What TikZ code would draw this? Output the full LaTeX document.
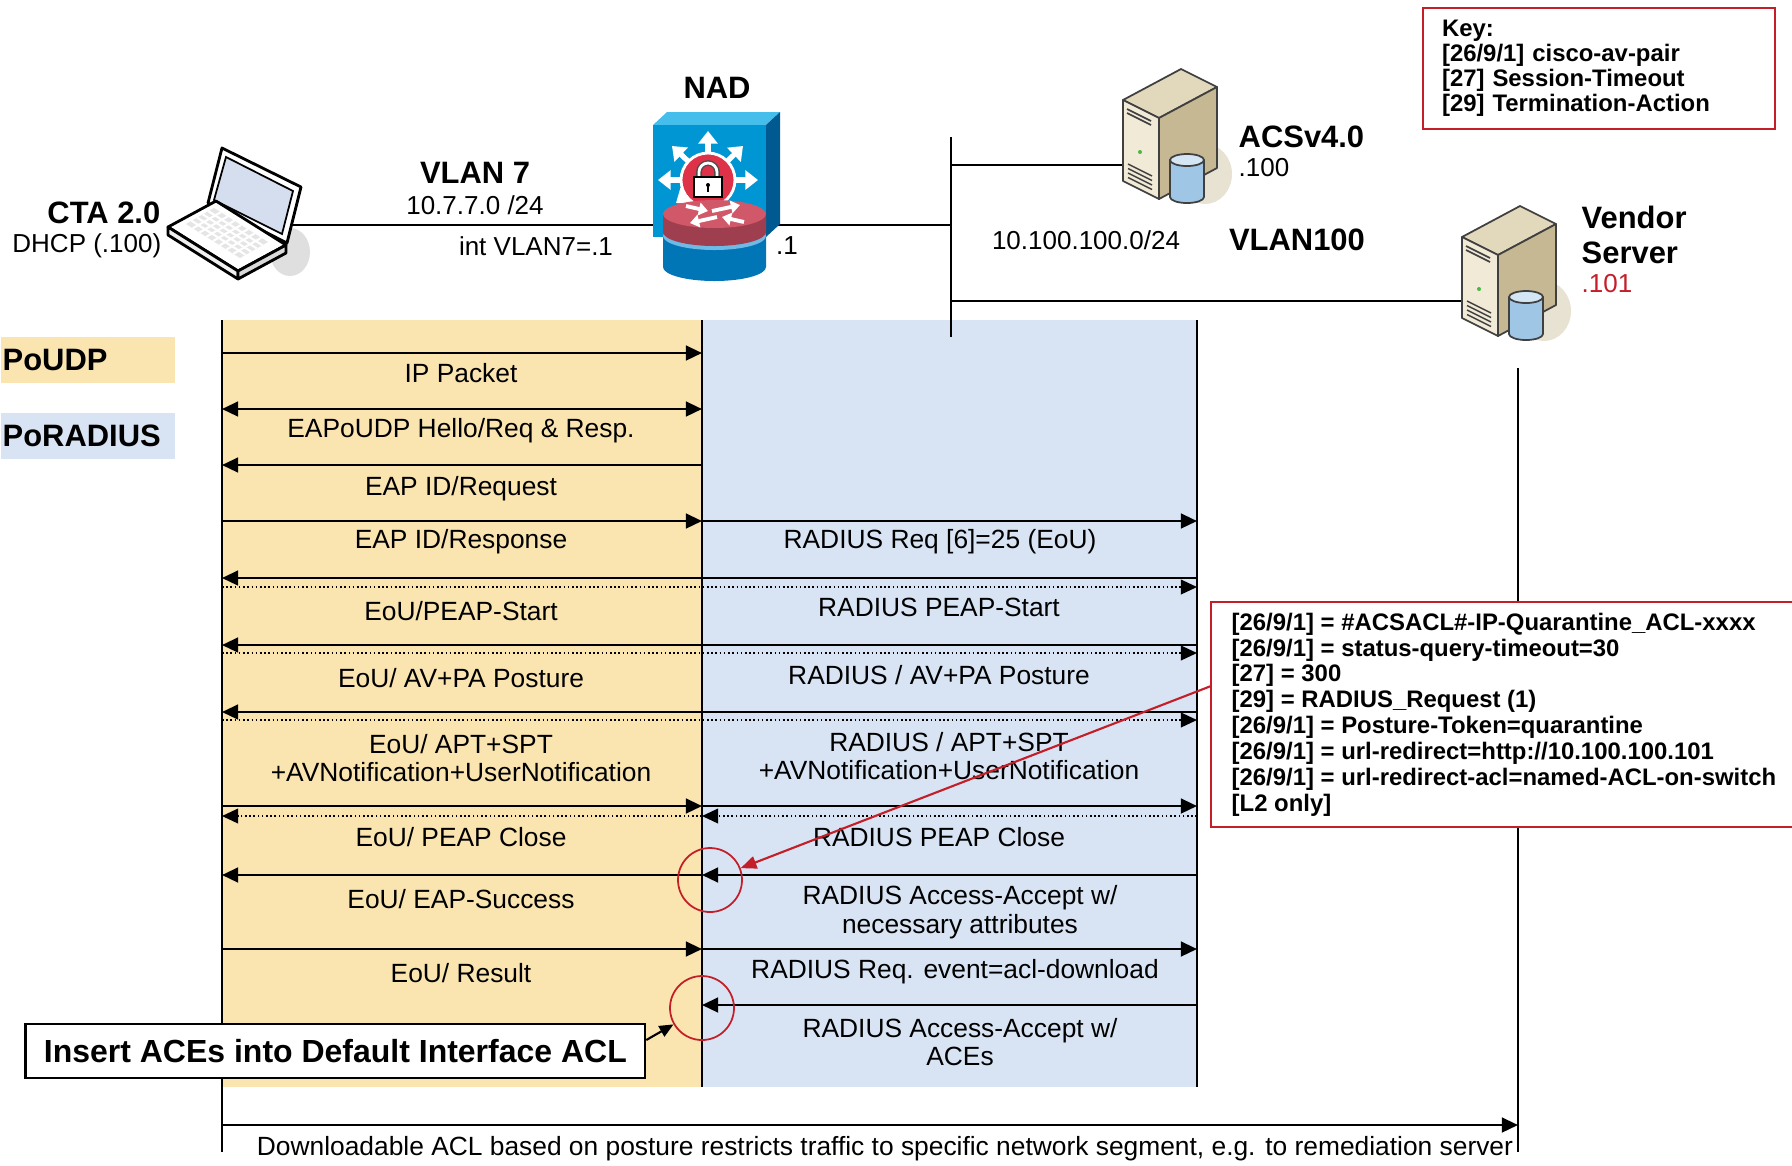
\documentclass[tikz,border=0pt]{standalone}
\usepackage{fontspec}
\setmainfont{Liberation Sans}
\usepackage{xcolor}
\definecolor{eouyellow}{RGB}{250,228,176}
\definecolor{radblue}{RGB}{216,228,244}
\definecolor{notered}{RGB}{196,30,40}
\definecolor{nadblue}{RGB}{0,150,212}
\definecolor{nadtop}{RGB}{70,190,236}
\definecolor{nadside}{RGB}{0,90,145}
\definecolor{nadcyl}{RGB}{0,118,182}
\definecolor{nadrim}{RGB}{110,185,230}
\definecolor{nadred}{RGB}{208,88,104}
\definecolor{nadredside}{RGB}{158,62,78}
\definecolor{lockred}{RGB}{222,50,72}
\definecolor{srvfront}{RGB}{240,234,214}
\definecolor{srvtop}{RGB}{226,216,188}
\definecolor{srvside}{RGB}{198,184,146}
\definecolor{srvshadow}{RGB}{232,226,210}
\definecolor{srvdisk}{RGB}{160,198,230}
\definecolor{lcdblue}{RGB}{212,222,238}
\usetikzlibrary{arrows.meta,calc,positioning}

\newcommand{\msgfont}{\fontsize{7.5}{8.2}\selectfont}
\newcommand{\hdfont}{\fontsize{8.8}{10}\selectfont\bfseries}
\newcommand{\notefont}{\fontsize{6.8}{7.35}\selectfont\bfseries}

% tower server icon, origin at the top corner
\tikzset{
  srvedge/.style={draw=black!75, line width=0.5pt, line join=round},
  towerserver/.pic={
    \fill[srvshadow] (0.24,-1.05) ellipse (0.27 and 0.30);
    \draw[srvedge, fill=srvtop] (0,0) -- (0.36,-0.18) -- (-0.22,-0.49) -- (-0.58,-0.31) -- cycle;
    \draw[srvedge, fill=srvfront] (-0.58,-0.31) -- (-0.22,-0.49) -- (-0.22,-1.30) -- (-0.58,-1.12) -- cycle;
    \draw[srvedge, fill=srvside] (-0.22,-0.49) -- (0.36,-0.18) -- (0.36,-0.99) -- (-0.22,-1.30) -- cycle;
    % slots, led and vents
    \draw[srvedge] (-0.54,-0.40) -- (-0.30,-0.52);
    \draw[srvedge] (-0.54,-0.44) -- (-0.30,-0.56);
    \fill[green!45!gray] (-0.41,-0.83) circle (0.02);
    \foreach \k in {0,1,2,3}
      \draw[srvedge, line width=0.4pt] (-0.53,-0.95-\k*0.045) -- (-0.29,-1.07-\k*0.045);
    % disk
    \draw[srvedge, fill=srvdisk] (-0.11,-0.91) -- (-0.11,-1.28) arc (180:360:0.17 and 0.06) -- (0.23,-0.91) -- cycle;
    \draw[srvedge, fill=srvdisk!45!white] (0.06,-0.91) ellipse (0.17 and 0.06);
  }
}

\begin{document}
\begin{tikzpicture}[
    >={Triangle[length=4.6pt,width=4.2pt]},
    msg/.style={line width=0.7pt, ->},
    msgdot/.style={line width=0.45pt, dash pattern=on 0.45pt off 0.75pt, ->},
    life/.style={line width=0.75pt},
    net/.style={line width=0.75pt},
    lbl/.style={font=\msgfont, inner sep=0pt, align=center},
    hd/.style={font=\hdfont, inner sep=0pt},
    addr/.style={font=\fontsize{7.4}{8.2}\selectfont, inner sep=0pt},
    ring/.style={circle, draw=notered, line width=0.5pt, minimum size=0.64cm, inner sep=0pt},
    notebox/.style={draw=notered, line width=0.6pt}
]
\useasboundingbox (0,0) rectangle (17.92,-11.65);

% EAPoUDP and EAPoRADIUS legs
\fill[eouyellow] (2.22,-3.20) rectangle (7.02,-10.87);
\fill[radblue] (7.02,-3.20) rectangle (11.97,-10.87);

\node[anchor=west, fill=eouyellow, font=\hdfont, minimum height=0.46cm, text width=1.70cm, inner xsep=0.02cm, inner ysep=0pt] (udpkey) at (0,-3.60) {PoUDP};
\node[anchor=west, fill=radblue, font=\hdfont, minimum height=0.46cm, text width=1.70cm, inner xsep=0.02cm, inner ysep=0pt] (radkey) at (0,-4.36) {PoRADIUS};

% network
\coordinate (pc) at (2.93,-2.25);
\coordinate (bus7) at (9.51,-2.25);
\coordinate (bustop) at (9.51,-1.37);
\coordinate (busbot) at (9.51,-3.37);
\coordinate (busacs) at (9.51,-1.65);
\coordinate (acsport) at (11.23,-1.65);
\coordinate (busvnd) at (9.51,-3.01);
\coordinate (vndport) at (14.62,-3.01);
\draw[net] (pc) -- (bus7);
\draw[net] (bustop) -- (busbot);
\draw[net] (busacs) -- (acsport);
\draw[net] (busvnd) -- (vndport);

% CTA laptop
\fill[gray!25] (2.90,-2.52) ellipse (0.20 and 0.24);
\draw[line width=0.8pt, fill=white, line join=round] (2.22,-1.48) -- (3.01,-1.87) -- (2.87,-2.43) -- (2.08,-2.03) -- cycle;
\draw[line width=0.5pt, fill=lcdblue] (2.26,-1.57) -- (2.93,-1.91) -- (2.82,-2.34) -- (2.14,-2.00) -- cycle;
\coordinate (lb) at (1.68,-2.27);
\coordinate (fb) at (2.38,-2.71);
\coordinate (rb) at (2.86,-2.45);
\coordinate (bb) at (2.16,-2.01);
\draw[line width=0.8pt, fill=white, line join=round] (lb) -- (fb) -- (rb) -- (bb) -- cycle;
\draw[line width=0.8pt, fill=gray!12, line join=round] (lb) -- (fb) -- ($(fb)+(0,-0.08)$) -- ($(lb)+(0,-0.08)$) -- cycle;
\draw[line width=0.8pt, fill=gray!30, line join=round] (fb) -- (rb) -- ($(rb)+(0,-0.08)$) -- ($(fb)+(0,-0.08)$) -- cycle;
\coordinate (k1) at (1.86,-2.24);
\coordinate (k2) at (2.40,-2.58);
\coordinate (k3) at (2.68,-2.42);
\coordinate (k4) at (2.14,-2.08);
\fill[gray!20] (k1) -- (k2) -- (k3) -- (k4) -- cycle;
\foreach \t in {0.125,0.25,...,0.9}
  \draw[white, line width=0.6pt] ($(k1)!\t!(k2)$) -- ($(k4)!\t!(k3)$);
\foreach \t in {0.2,0.4,0.6,0.8}
  \draw[white, line width=0.6pt] ($(k1)!\t!(k4)$) -- ($(k2)!\t!(k3)$);

% NAD: switch with lock on a router disk
\fill[nadtop] (6.53,-1.25) -- (6.67,-1.12) -- (7.80,-1.12) -- (7.66,-1.25) -- cycle;
\fill[nadside] (7.66,-1.25) -- (7.80,-1.12) -- (7.80,-2.24) -- (7.66,-2.37) -- cycle;
\fill[nadblue] (6.53,-1.25) rectangle (7.66,-2.37);
\foreach \tx/\ty in {7.08/-1.31, 6.58/-1.80, 7.58/-1.80, 6.72/-1.46, 7.43/-1.46, 6.76/-2.03}
  \draw[white, line width=1.5pt, -{Triangle[length=3.6pt,width=5.4pt]}] (7.08,-1.80) -- (\tx,\ty);
\draw[white, line width=0.8pt, fill=lockred] (7.08,-1.80) circle (0.27);
\draw[gray!60!black, line width=1.6pt] (6.99,-1.77) -- (6.99,-1.72) arc (180:0:0.09) -- (7.17,-1.77);
\draw[white, line width=0.8pt] (6.99,-1.77) -- (6.99,-1.72) arc (180:0:0.09) -- (7.17,-1.77);
\draw[line width=0.4pt, fill=white] (6.94,-1.77) rectangle (7.22,-1.97);
\fill (7.08,-1.85) circle (0.02);
\draw[line width=0.6pt] (7.08,-1.85) -- (7.08,-1.92);
\fill[nadcyl] (6.63,-2.36) -- (6.63,-2.67) arc (180:360:0.515 and 0.14) -- (7.66,-2.36) -- cycle;
\fill[nadrim] (7.145,-2.36) ellipse (0.515 and 0.14);
\fill[nadredside] (6.63,-2.14) -- (6.63,-2.32) arc (180:360:0.515 and 0.14) -- (7.66,-2.14) -- cycle;
\fill[nadred] (7.145,-2.14) ellipse (0.515 and 0.14);
\draw[white, line width=1.1pt, -{Triangle[length=2.6pt,width=3.6pt]}] (7.12,-2.11) -- (7.40,-2.05);
\draw[white, line width=1.1pt, -{Triangle[length=2.6pt,width=3.6pt]}] (7.17,-2.17) -- (6.90,-2.23);
\draw[white, line width=1.1pt, -{Triangle[length=2.6pt,width=3.6pt]}] (6.86,-2.06) -- (7.08,-2.11);
\draw[white, line width=1.1pt, -{Triangle[length=2.6pt,width=3.6pt]}] (7.44,-2.22) -- (7.22,-2.17);

% servers
\pic at (11.81,-0.69) {towerserver};
\pic at (15.20,-2.06) {towerserver};

% names and addresses
\node[hd, anchor=east] (ctaname) at (1.61,-2.13) {CTA 2.0};
\node[addr, anchor=east] (ctaaddr) at (1.62,-2.46) {DHCP (.100)};
\node[hd] (vlan7) at (4.75,-1.73) {VLAN 7};
\node[addr] (net7) at (4.75,-2.05) {10.7.7.0 /24};
\node[addr] (svi7) at (5.36,-2.46) {int VLAN7=.1};
\node[hd] (nadname) at (7.17,-0.88) {NAD};
\node[addr] (svi100) at (7.87,-2.46) {.1};
\node[hd, anchor=west] (acsname) at (12.38,-1.37) {ACSv4.0};
\node[addr, anchor=west] (acsaddr) at (12.38,-1.68) {.100};
\node[addr] (net100) at (10.86,-2.40) {10.100.100.0/24};
\node[hd] (vlan100) at (12.97,-2.40) {VLAN100};
\node[hd, anchor=west, align=left] (vndname) at (15.81,-2.35) {Vendor\\Server};
\node[addr, anchor=west, text=notered] (vndaddr) at (15.81,-2.84) {.101};

% key
\node[anchor=north west, draw=notered, line width=0.6pt, fill=white, font=\fontsize{6.8}{7.1}\selectfont\bfseries, align=left, text width=3.14cm, inner xsep=0.19cm, minimum height=1.21cm] (key) at (14.22,-0.07)
  {Key:\\{}[26/9/1] cisco-av-pair\\{}[27] Session-Timeout\\{}[29] Termination-Action};

% lifelines
\coordinate (cta) at (2.22,-3.20);
\coordinate (ctaend) at (2.22,-11.52);
\coordinate (nad) at (7.02,-3.20);
\coordinate (nadend) at (7.02,-10.87);
\coordinate (acs) at (11.97,-3.20);
\coordinate (acsend) at (11.97,-10.87);
\coordinate (vnd) at (15.18,-3.68);
\coordinate (vndend) at (15.18,-11.52);
\draw[life] (cta) -- (ctaend);
\draw[life] (nad) -- (nadend);
\draw[life] (acs) -- (acsend);
\draw[life] (vnd) -- (vndend);

% messages
\foreach \y/\a/\b in {3.53/cta/nad, 5.21/cta/nad, 5.21/nad/acs, 8.06/cta/nad, 8.06/nad/acs,
    9.49/cta/nad, 9.49/nad/acs, 11.25/cta/vnd,
    4.65/nad/cta, 5.78/acs/cta, 6.45/acs/cta, 7.12/acs/cta, 8.75/acs/nad, 8.75/nad/cta, 10.05/acs/nad}
  \draw[msg] (\a |- 0,-\y) -- (\b |- 0,-\y);
\foreach \y/\a/\b in {5.87/cta/acs, 6.53/cta/acs, 7.20/cta/acs, 8.16/acs/nad, 8.16/nad/cta}
  \draw[msgdot] (\a |- 0,-\y) -- (\b |- 0,-\y);
\draw[msg, <->] (cta |- 0,-4.09) -- (nad |- 0,-4.09);

\node[lbl] (m1) at (4.61,-3.73) {IP Packet};
\node[lbl] (m2) at (4.61,-4.31) {EAPoUDP Hello/Req \& Resp.};
\node[lbl] (m3) at (4.61,-4.89) {EAP ID/Request};
\node[lbl] (m4) at (4.61,-5.42) {EAP ID/Response};
\node[lbl] (m5) at (4.61,-6.11) {EoU/PEAP-Start};
\node[lbl] (m6) at (4.61,-6.78) {EoU/ AV+PA Posture};
\node[lbl] (m7) at (4.61,-7.58) {EoU/ APT+SPT\\+AVNotification+UserNotification};
\node[lbl] (m8) at (4.61,-8.37) {EoU/ PEAP Close};
\node[lbl] (m9) at (4.61,-8.99) {EoU/ EAP-Success};
\node[lbl] (m10) at (4.61,-9.73) {EoU/ Result};

\node[lbl] (r1) at (9.40,-5.42) {RADIUS Req [6]=25 (EoU)};
\node[lbl] (r2) at (9.39,-6.07) {RADIUS PEAP-Start};
\node[lbl] (r3) at (9.39,-6.75) {RADIUS / AV+PA Posture};
\node[lbl] (r4) at (9.49,-7.56) {RADIUS / APT+SPT\\+AVNotification+UserNotification};
\node[lbl] (r5) at (9.39,-8.37) {RADIUS PEAP Close};
\node[lbl] (r6) at (9.60,-9.12) {RADIUS Access-Accept w/\\necessary attributes};
\node[lbl] (r7) at (9.55,-9.72) {RADIUS Req. event=acl-download};
\node[lbl] (r8) at (9.60,-10.42) {RADIUS Access-Accept w/\\ACEs};

\node[lbl] (dacl) at (8.85,-11.49) {Downloadable ACL based on posture restricts traffic to specific network segment, e.g. to remediation server};

% attributes returned with the access-accept
\fill[white] (12.11,-6.03) rectangle (17.92,-8.26);
\node[anchor=west, font=\notefont, align=left, inner xsep=0.2cm, inner ysep=0pt, minimum height=2.23cm] (attrs) at (12.11,-7.145)
  {[26/9/1] = \#ACSACL\#-IP-Quarantine\_ACL-xxxx\\{}[26/9/1] = status-query-timeout=30\\{}[27] = 300\\{}[29] = RADIUS\_Request (1)\\{}[26/9/1] = Posture-Token=quarantine\\{}[26/9/1] = url-redirect=http://10.100.100.101\\{}[26/9/1] = url-redirect-acl=named-ACL-on-switch\\{}[L2 only]};
\draw[notebox] (attrs.north west -| 17.92,0) -- (attrs.north west) -- (attrs.south west) -- (attrs.south west -| 17.92,0);

\node[ring] (ring1) at (7.10,-8.80) {};
\node[ring] (ring2) at (7.02,-10.08) {};
\draw[notered, line width=0.6pt, -{Triangle[length=4.5pt,width=3.6pt]}] (attrs.west |- 0,-6.86) -- (ring1);

\node[anchor=west, draw, line width=0.65pt, fill=white, font=\fontsize{9.1}{10}\selectfont\bfseries, minimum width=6.195cm, minimum height=0.54cm, inner sep=0pt] (aces) at (0.245,-10.51) {Insert ACEs into Default Interface ACL};
\draw[line width=0.6pt, -{Triangle[length=4pt,width=3.4pt]}] (aces.east |- 0,-10.40) -- (ring2);
\end{tikzpicture}
\end{document}
